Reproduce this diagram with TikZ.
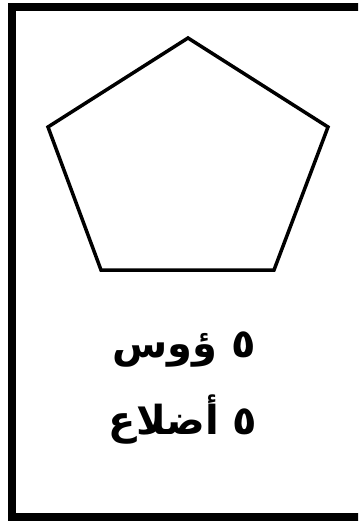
\documentclass[tikz,border=0pt]{standalone}
\usepackage{fontspec}
\newfontfamily\arabicfont[Script=Arabic]{DejaVu Sans}
\TeXXeTstate=1
\begin{document}
\begin{tikzpicture}[x=1bp,y=-1bp,
  framebox/.style={line width=8bp,draw=black},
  pentline/.style={line width=3.5bp,draw=black,line join=miter},
  arabtxt/.style={font=\arabicfont\bfseries\fontsize{40bp}{46bp}\selectfont,inner sep=0pt}]
\useasboundingbox (0,0) rectangle (358,521);
\clip (0,0) rectangle (358,521);
\fill[white] (0,0) rectangle (358,521);
\draw[framebox] (12,7) rectangle (370,517);
\coordinate (t) at (188,38);
\coordinate (r) at (328,127);
\coordinate (br) at (274,270);
\coordinate (bl) at (101,270);
\coordinate (l) at (48,127);
\draw[pentline] (t) -- (r) -- (br) -- (bl) -- (l) -- cycle;
\node[arabtxt] (v) at (184,350) {\beginR ٥ ؤوس\endR};
\node[arabtxt] (s) at (183,420) {\beginR ٥ أضلاع\endR};
\end{tikzpicture}
\end{document}
